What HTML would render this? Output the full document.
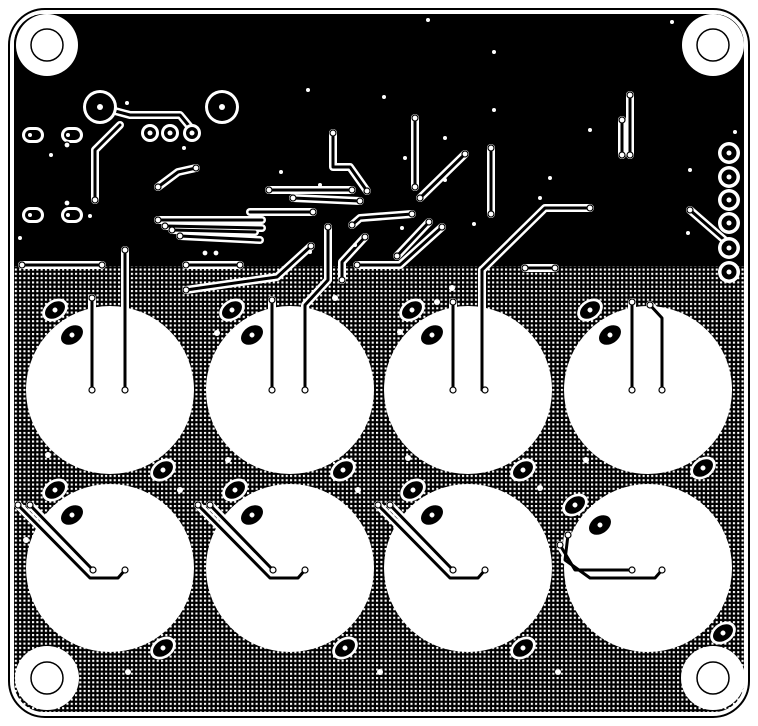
<!DOCTYPE html>
<html><head><style>html,body{margin:0;padding:0;background:#fff;width:758px;height:726px;overflow:hidden}</style></head>
<body>
<svg width="758" height="726" viewBox="0 0 758 726" xmlns="http://www.w3.org/2000/svg">
<defs>
<pattern id="h" width="4.3" height="4.3" patternUnits="userSpaceOnUse">
<rect width="4.3" height="4.3" fill="#000"/><rect x="1.9" y="1.9" width="2.1" height="2.1" fill="#fff"/>
</pattern>
<clipPath id="bd"><rect x="14" y="14" width="730" height="698" rx="30"/></clipPath>
<g id="tr" fill="none" stroke-linecap="round" stroke-linejoin="round">
<path d="M333 133 L333 167 L350 167 L367 191"/>
<path d="M269 190 L352 190"/>
<path d="M293 198 L360 201"/>
<path d="M250 212 L313 212"/>
<path d="M415 118 L415 187"/>
<path d="M420 198 L465 154"/>
<path d="M491 148 L491 214"/>
<path d="M352 225 L360 218 L412 214"/>
<path d="M328 227 L328 280 L305 305 L305 390"/>
<path d="M311 246 L277 277 L186 290"/>
<path d="M365 237 L342 262 L342 280"/>
<path d="M357 265 L400 265 L442 227"/>
<path d="M397 256 L429 222"/>
<path d="M158 220 L262 220"/>
<path d="M165 226 L262 228"/>
<path d="M172 230 L255 232"/>
<path d="M180 236 L260 240"/>
<path d="M158 187 L178 172 L196 168"/>
<path d="M22 265 L102 265"/>
<path d="M186 265 L240 265"/>
<path d="M525 268 L555 268"/>
<path d="M100 107 L130 115 L180 115 L195 133"/>
<path d="M120 125 L95 150 L95 200"/>
<path d="M630 95 L630 155"/>
<path d="M622 120 L622 155"/>
<path d="M690 210 L729 244"/>
<path d="M482 270 L545 208 L590 208"/>
<path d="M482 270 L482 390"/>
<path d="M125 250 L125 390"/>
<path d="M92 298 L92 390"/>
<path d="M272 300 L272 390"/>
<path d="M453 302 L453 390"/>
<path d="M632 302 L632 390"/>
<path d="M650 305 L662 318 L662 390"/>
<path d="M18 505 L90 578 L118 578 L125 570"/><path d="M30 505 L93 570"/>
<path d="M198 505 L270 578 L298 578 L305 570"/><path d="M210 505 L273 570"/>
<path d="M378 505 L450 578 L478 578 L485 570"/><path d="M390 505 L453 570"/>
<path d="M568 535 L565 560 L590 578 L655 578 L662 570"/><path d="M560 545 L575 570 L632 570"/>
</g>
<g id="pad">
<ellipse cx="0" cy="0" rx="14" ry="10" fill="#fff"/><ellipse cx="0" cy="0" rx="11" ry="7.5" fill="#000"/><circle r="2.5" fill="#fff"/>
</g>
<g id="padi"><ellipse cx="0" cy="0" rx="12" ry="8.5" fill="#000"/><circle r="2.5" fill="#fff"/></g>
</defs>
<rect x="9" y="9" width="740" height="708" rx="36" fill="none" stroke="#000" stroke-width="2"/>
<g clip-path="url(#bd)">
<rect x="0" y="0" width="758" height="726" fill="url(#h)"/>
<rect x="0" y="0" width="758" height="266" fill="#000"/>
</g>
<g fill="#fff">
<circle cx="110" cy="390" r="84"/><circle cx="290" cy="390" r="84"/><circle cx="468" cy="390" r="84"/><circle cx="648" cy="390" r="84"/>
<circle cx="110" cy="568" r="84"/><circle cx="290" cy="568" r="84"/><circle cx="468" cy="568" r="84"/><circle cx="648" cy="568" r="84"/>
<circle cx="47" cy="45" r="31"/><circle cx="713" cy="45" r="31"/><circle cx="47" cy="678" r="32"/><circle cx="713" cy="678" r="32"/>
</g>
<g fill="none" stroke="#000" stroke-width="1.5">
<circle cx="47" cy="45" r="16"/><circle cx="713" cy="45" r="16"/><circle cx="47" cy="678" r="16"/><circle cx="713" cy="678" r="16"/>
</g>
<use href="#tr" stroke="#fff" stroke-width="8"/>
<use href="#tr" stroke="#000" stroke-width="3"/>
<g fill="#fff">
<circle cx="100" cy="107" r="17"/><circle cx="222" cy="107" r="17"/>
<circle cx="150" cy="133" r="9"/><circle cx="170" cy="133" r="9"/><circle cx="192" cy="133" r="9"/>
<rect x="22" y="127" width="22" height="16" rx="8"/><rect x="61" y="127" width="22" height="16" rx="8"/>
<rect x="22" y="207" width="22" height="16" rx="8"/><rect x="61" y="207" width="22" height="16" rx="8"/>
<circle cx="729" cy="153" r="11"/><circle cx="729" cy="177" r="11"/><circle cx="729" cy="200" r="11"/><circle cx="729" cy="223" r="11"/><circle cx="729" cy="248" r="11"/><circle cx="729" cy="272" r="11"/>
</g>
<g fill="#000">
<circle cx="100" cy="107" r="14"/><circle cx="222" cy="107" r="14"/>
<circle cx="150" cy="133" r="6"/><circle cx="170" cy="133" r="6"/><circle cx="192" cy="133" r="6"/>
<rect x="25" y="130" width="16" height="10" rx="5"/><rect x="64" y="130" width="16" height="10" rx="5"/>
<rect x="25" y="210" width="16" height="10" rx="5"/><rect x="64" y="210" width="16" height="10" rx="5"/>
<circle cx="729" cy="153" r="7.5"/><circle cx="729" cy="177" r="7.5"/><circle cx="729" cy="200" r="7.5"/><circle cx="729" cy="223" r="7.5"/><circle cx="729" cy="248" r="7.5"/><circle cx="729" cy="272" r="7.5"/>
</g>
<g fill="#fff">
<circle cx="100" cy="107" r="3"/><circle cx="222" cy="107" r="3"/><circle cx="150" cy="133" r="2.5"/><circle cx="170" cy="133" r="2.5"/><circle cx="192" cy="133" r="2.5"/>
<circle cx="30" cy="135" r="2"/><circle cx="68" cy="135" r="2"/><circle cx="30" cy="215" r="2"/><circle cx="68" cy="215" r="2"/>
<circle cx="729" cy="153" r="2.5"/><circle cx="729" cy="177" r="2.5"/><circle cx="729" cy="200" r="2.5"/><circle cx="729" cy="223" r="2.5"/><circle cx="729" cy="248" r="2.5"/><circle cx="729" cy="272" r="2.5"/>
<circle cx="428" cy="20" r="2"/><circle cx="672" cy="22" r="2"/><circle cx="494" cy="52" r="2"/><circle cx="308" cy="90" r="2"/><circle cx="127" cy="103" r="2"/>
<circle cx="384" cy="97" r="2"/><circle cx="494" cy="110" r="2"/><circle cx="445" cy="138" r="2"/><circle cx="590" cy="130" r="2"/><circle cx="690" cy="170" r="2"/><circle cx="735" cy="132" r="2"/>
<circle cx="51" cy="155" r="2"/><circle cx="184" cy="148" r="2"/><circle cx="281" cy="172" r="2"/><circle cx="320" cy="185" r="2"/><circle cx="405" cy="158" r="2"/>
<circle cx="445" cy="180" r="2"/><circle cx="550" cy="178" r="2"/><circle cx="688" cy="233" r="2"/><circle cx="20" cy="238" r="2"/><circle cx="90" cy="216" r="2"/>
<circle cx="402" cy="228" r="2"/><circle cx="474" cy="224" r="2"/><circle cx="540" cy="198" r="2"/><circle cx="310" cy="252" r="2"/><circle cx="355" cy="245" r="2"/>
</g>
<g fill="#fff">
<circle cx="335" cy="298" r="3"/><circle cx="437" cy="302" r="3"/><circle cx="452" cy="288" r="3"/><circle cx="400" cy="332" r="3"/><circle cx="217" cy="333" r="3"/>
<circle cx="180" cy="490" r="3"/><circle cx="358" cy="490" r="3"/><circle cx="540" cy="488" r="3"/><circle cx="26" cy="540" r="3"/><circle cx="128" cy="672" r="3"/><circle cx="380" cy="672" r="3"/><circle cx="558" cy="672" r="3"/>
<circle cx="48" cy="455" r="3"/><circle cx="228" cy="460" r="3"/><circle cx="408" cy="458" r="3"/><circle cx="586" cy="460" r="3"/>
</g>
<use href="#pad" transform="translate(55,310) rotate(-35)"/><use href="#padi" transform="translate(72,335) rotate(-35)"/><use href="#pad" transform="translate(163,470) rotate(-35)"/>
<use href="#pad" transform="translate(232,310) rotate(-35)"/><use href="#padi" transform="translate(252,335) rotate(-35)"/><use href="#pad" transform="translate(343,470) rotate(-35)"/>
<use href="#pad" transform="translate(412,310) rotate(-35)"/><use href="#padi" transform="translate(432,335) rotate(-35)"/><use href="#pad" transform="translate(523,470) rotate(-35)"/>
<use href="#pad" transform="translate(590,310) rotate(-35)"/><use href="#padi" transform="translate(610,335) rotate(-35)"/><use href="#pad" transform="translate(703,468) rotate(-35)"/>
<use href="#pad" transform="translate(55,490) rotate(-35)"/><use href="#padi" transform="translate(72,515) rotate(-35)"/><use href="#pad" transform="translate(163,648) rotate(-35)"/>
<use href="#pad" transform="translate(235,490) rotate(-35)"/><use href="#padi" transform="translate(252,515) rotate(-35)"/><use href="#pad" transform="translate(345,648) rotate(-35)"/>
<use href="#pad" transform="translate(413,490) rotate(-35)"/><use href="#padi" transform="translate(432,515) rotate(-35)"/><use href="#pad" transform="translate(523,648) rotate(-35)"/>
<use href="#pad" transform="translate(575,505) rotate(-35)"/><use href="#padi" transform="translate(600,525) rotate(-35)"/><use href="#pad" transform="translate(723,633) rotate(-35)"/>
<g fill="#fff" stroke="#000" stroke-width="1.2">
<circle cx="92" cy="390" r="3"/><circle cx="125" cy="390" r="3"/><circle cx="272" cy="390" r="3"/><circle cx="305" cy="390" r="3"/>
<circle cx="453" cy="390" r="3"/><circle cx="485" cy="390" r="3"/><circle cx="632" cy="390" r="3"/><circle cx="662" cy="390" r="3"/>
<circle cx="92" cy="298" r="3"/><circle cx="272" cy="300" r="3"/><circle cx="453" cy="302" r="3"/><circle cx="632" cy="302" r="3"/><circle cx="650" cy="305" r="3"/>
<circle cx="125" cy="570" r="3"/><circle cx="93" cy="570" r="3"/><circle cx="305" cy="570" r="3"/><circle cx="273" cy="570" r="3"/>
<circle cx="485" cy="570" r="3"/><circle cx="453" cy="570" r="3"/><circle cx="662" cy="570" r="3"/><circle cx="632" cy="570" r="3"/>
<circle cx="18" cy="505" r="3"/><circle cx="30" cy="505" r="3"/><circle cx="198" cy="505" r="3"/><circle cx="210" cy="505" r="3"/>
<circle cx="378" cy="505" r="3"/><circle cx="390" cy="505" r="3"/><circle cx="568" cy="535" r="3"/><circle cx="560" cy="545" r="3"/>
<circle cx="333" cy="133" r="3"/><circle cx="367" cy="191" r="3"/><circle cx="269" cy="190" r="3"/><circle cx="352" cy="190" r="3"/><circle cx="293" cy="198" r="3"/><circle cx="360" cy="201" r="3"/>
<circle cx="313" cy="212" r="3"/><circle cx="415" cy="118" r="3"/><circle cx="415" cy="187" r="3"/><circle cx="420" cy="198" r="3"/><circle cx="465" cy="154" r="3"/>
<circle cx="491" cy="148" r="3"/><circle cx="491" cy="214" r="3"/><circle cx="352" cy="225" r="3"/><circle cx="412" cy="214" r="3"/><circle cx="328" cy="227" r="3"/>
<circle cx="311" cy="246" r="3"/><circle cx="186" cy="290" r="3"/><circle cx="365" cy="237" r="3"/><circle cx="342" cy="280" r="3"/><circle cx="357" cy="265" r="3"/>
<circle cx="442" cy="227" r="3"/><circle cx="397" cy="256" r="3"/><circle cx="429" cy="222" r="3"/><circle cx="158" cy="220" r="3"/><circle cx="165" cy="226" r="3"/>
<circle cx="172" cy="230" r="3"/><circle cx="180" cy="236" r="3"/><circle cx="158" cy="187" r="3"/><circle cx="196" cy="168" r="3"/><circle cx="22" cy="265" r="3"/>
<circle cx="102" cy="265" r="3"/><circle cx="186" cy="265" r="3"/><circle cx="240" cy="265" r="3"/><circle cx="525" cy="268" r="3"/><circle cx="555" cy="268" r="3"/>
<circle cx="95" cy="200" r="3"/><circle cx="125" cy="250" r="3"/><circle cx="630" cy="95" r="3"/><circle cx="630" cy="155" r="3"/><circle cx="622" cy="120" r="3"/>
<circle cx="622" cy="155" r="3"/><circle cx="690" cy="210" r="3"/><circle cx="590" cy="208" r="3"/><circle cx="67" cy="145" r="3"/><circle cx="67" cy="203" r="3"/>
<circle cx="205" cy="253" r="3"/><circle cx="216" cy="253" r="3"/>
</g>
</svg>
</body></html>
